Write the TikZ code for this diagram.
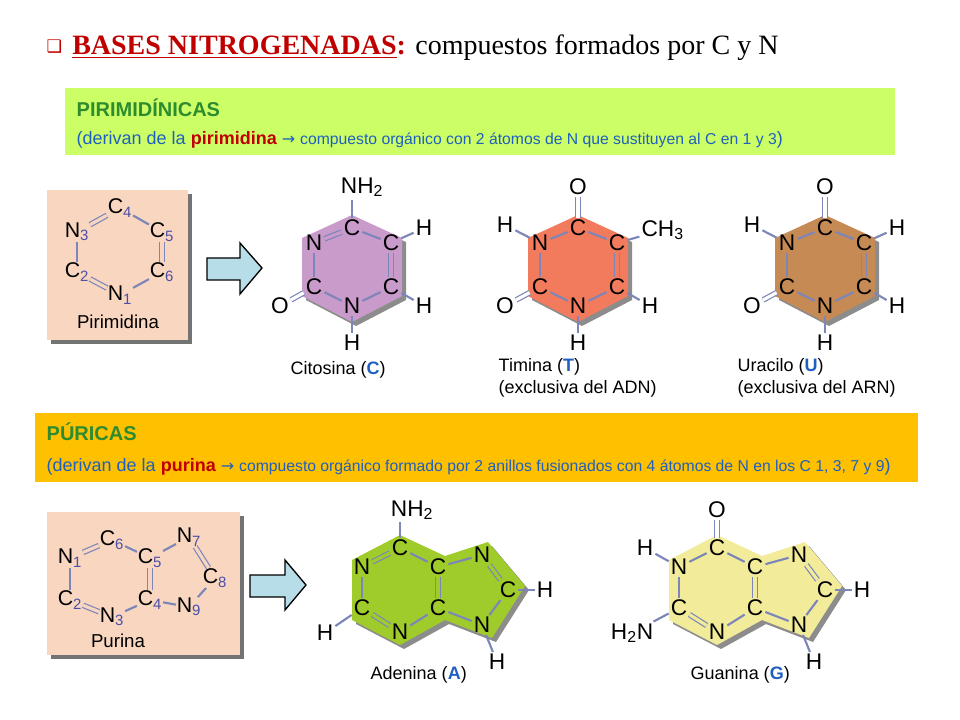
\documentclass[tikz,border=0pt]{standalone}
\usepackage{fontspec}
\setmainfont{Liberation Sans}
\newfontfamily\titlefont{Liberation Serif}
\newfontfamily\symfont{DejaVu Sans}
\definecolor{bondblue}{HTML}{7C86B8}
\definecolor{subblue}{HTML}{4A4FA8}
\definecolor{textblue}{HTML}{1F5FBF}
\definecolor{headgreen}{HTML}{2E8B2E}
\definecolor{titlered}{HTML}{C00000}
\definecolor{limebox}{HTML}{CCFF66}
\definecolor{orangebox}{HTML}{FFC000}
\definecolor{peach}{HTML}{F8D6C0}
\definecolor{arrowfill}{HTML}{B7DEE8}
\definecolor{cytofill}{HTML}{C99BCB}
\definecolor{thymfill}{HTML}{F27B5E}
\definecolor{uracfill}{HTML}{C68A55}
\definecolor{adenfill}{HTML}{9FCC2A}
\definecolor{guanfill}{HTML}{F2EC9A}
\tikzset{
  atom/.style={inner sep=1pt, font=\fontsize{17}{17}\selectfont},
  patom/.style={inner sep=0pt, font=\fontsize{16}{16}\selectfont},
  bond/.style={draw=bondblue, line width=1.6pt, shorten <=0.5pt, shorten >=0.5pt},
  dbond/.style={bond, line width=0.9pt, double distance=2.4pt},
  shade/.style={fill=black!45},
  caption/.style={font=\fontsize{13.5}{16}\selectfont, anchor=west, align=left},
  blockarrow/.style={draw=black, line width=1pt, fill=arrowfill}
}
\newcommand{\sub}[1]{\textsubscript{\color{subblue}#1}}
\begin{document}
\begin{tikzpicture}[x=0.75pt, y=-0.75pt]
	\useasboundingbox (0,0) rectangle (960,720);
	%title
		\node[anchor=west, text=titlered, font=\symfont\fontsize{13}{13}\selectfont] (chk) at (42,47) {❑};
		\node[anchor=base west, inner sep=0pt, font=\titlefont\fontsize{21}{24}\selectfont] (title) at (72,55)
			{\textcolor{titlered}{\bfseries\underline{BASES NITROGENADAS}}\textcolor{titlered}{\bfseries:} compuestos formados por C y N};
	%pirimidinicas band
		\fill[limebox] (65,88) rectangle (895,155);
		\node[anchor=west, text=headgreen, font=\bfseries\fontsize{15}{17}\selectfont] (pirhead) at (72,108) {PIRIMIDÍNICAS};
		\node[anchor=west, text=textblue, font=\fontsize{13.5}{15}\selectfont] (pirtext) at (72,140)
			{(derivan de la \textcolor{titlered}{\bfseries pirimidina} {\symfont\fontsize{12}{12}\selectfont →} {\fontsize{11.8}{13}\selectfont compuesto orgánico con 2 átomos de N que sustituyen al C en 1 y 3})};
	%puricas band
		\fill[orangebox] (35,413) rectangle (918,482);
		\node[anchor=west, text=headgreen, font=\bfseries\fontsize{15}{17}\selectfont] (purhead) at (42,432) {PÚRICAS};
		\node[anchor=west, text=textblue, font=\fontsize{13.5}{15}\selectfont] (purtext) at (42,467)
			{(derivan de la \textcolor{titlered}{\bfseries purina} {\symfont\fontsize{12}{12}\selectfont →} {\fontsize{11.8}{13}\selectfont compuesto orgánico formado por 2 anillos fusionados con 4 átomos de N en los C 1, 3, 7 y 9})};
	%pirimidina box
		\fill[black!55] (51,194) rectangle (192,344);
		\fill[peach] (47,190) rectangle (188,340);
		\node[patom] (pC4) at (120,208) {C\sub{4}};
		\node[patom] (pC5) at (162,232) {C\sub{5}};
		\node[patom] (pC6) at (162,272) {C\sub{6}};
		\node[patom] (pN1) at (120,295) {N\sub{1}};
		\node[patom] (pC2) at (77,272) {C\sub{2}};
		\node[patom] (pN3) at (77,232) {N\sub{3}};
		\draw[dbond, double=peach] (pN3) -- (pC4);
		\draw[bond] (pC4) -- (pC5);
		\draw[dbond, double=peach] (pC5) -- (pC6);
		\draw[bond] (pC6) -- (pN1);
		\draw[dbond, double=peach] (pN1) -- (pC2);
		\draw[bond] (pC2) -- (pN3);
		\node[font=\fontsize{14}{16}\selectfont] (pirname) at (118,322) {Pirimidina};
	%purina box
		\fill[black!55] (51,516) rectangle (244,659);
		\fill[peach] (47,512) rectangle (240,655);
		\node[patom] (uC6) at (112,540) {C\sub{6}};
		\node[patom] (uC5) at (150,558) {C\sub{5}};
		\node[patom] (uC4) at (150,600) {C\sub{4}};
		\node[patom] (uN3) at (112,617) {N\sub{3}};
		\node[patom] (uC2) at (70,600) {C\sub{2}};
		\node[patom] (uN1) at (70,558) {N\sub{1}};
		\node[patom] (uN7) at (189,537) {N\sub{7}};
		\node[patom] (uC8) at (215,578) {C\sub{8}};
		\node[patom] (uN9) at (189,607) {N\sub{9}};
		\draw[dbond, double=peach] (uN1) -- (uC6);
		\draw[bond] (uC6) -- (uC5);
		\draw[dbond, double=peach] (uC5) -- (uC4);
		\draw[bond] (uC4) -- (uN3);
		\draw[dbond, double=peach] (uN3) -- (uC2);
		\draw[bond] (uC2) -- (uN1);
		\draw[bond] (uC5) -- (uN7);
		\draw[dbond, double=peach] (uN7) -- (uC8);
		\draw[bond] (uC8) -- (uN9);
		\draw[bond] (uN9) -- (uC4);
		\node[font=\fontsize{14}{16}\selectfont] (purname) at (118,641) {Purina};
	%block arrows
		\draw[blockarrow] (207,258) -- (240,258) -- (240,243) -- (262,268) -- (240,294) -- (240,280) -- (207,280) -- cycle;
		\draw[blockarrow] (250,575) -- (285,575) -- (285,560) -- (306,585) -- (285,610) -- (285,597) -- (250,597) -- cycle;
	%citosina
		\fill[shade] (356,219) -- (406,242) -- (406,300) -- (356,326) -- (306,300) -- (306,242) -- cycle;
		\fill[cytofill] (352,215) -- (402,238) -- (402,296) -- (352,322) -- (302,296) -- (302,238) -- cycle;
		\node[atom] (cC4) at (352,228) {C};
		\node[atom] (cC5) at (391,243) {C};
		\node[atom] (cC6) at (391,287) {C};
		\node[atom] (cN1) at (352,306) {N};
		\node[atom] (cC2) at (314,287) {C};
		\node[atom] (cN3) at (314,243) {N};
		\node[atom] (cNH) at (362,187) {NH\textsubscript{2}};
		\node[atom] (cH5) at (424,228) {H};
		\node[atom] (cH6) at (424,306) {H};
		\node[atom] (cH1) at (352,343) {H};
		\node[atom] (cO) at (280,306) {O};
		\draw[dbond, double=cytofill] (cC4) -- (cN3);
		\draw[bond] (cC4) -- (cC5);
		\draw[dbond, double=cytofill] (cC5) -- (cC6);
		\draw[bond] (cC6) -- (cN1);
		\draw[bond] (cN1) -- (cC2);
		\draw[bond] (cC2) -- (cN3);
		\draw[dbond, double=white] (cC2) -- (cO);
		\draw[bond] (cC4) -- (352,199);
		\draw[bond] (cC5) -- (cH5);
		\draw[bond] (cC6) -- (cH6);
		\draw[bond] (cN1) -- (cH1);
		\node[caption] (cname) at (286,370) {Citosina (\textcolor{textblue}{\bfseries C})};
	%timina
		\fill[shade] (582,219) -- (632,242) -- (632,300) -- (582,326) -- (532,300) -- (532,242) -- cycle;
		\fill[thymfill] (578,215) -- (628,238) -- (628,296) -- (578,322) -- (528,296) -- (528,238) -- cycle;
		\node[atom] (tC4) at (578,228) {C};
		\node[atom] (tC5) at (617,243) {C};
		\node[atom] (tC6) at (617,287) {C};
		\node[atom] (tN1) at (578,306) {N};
		\node[atom] (tC2) at (540,287) {C};
		\node[atom] (tN3) at (540,243) {N};
		\node[atom] (tO4) at (578,187) {O};
		\node[atom, anchor=west] (tCH) at (640,230) {CH\textsubscript{3}};
		\node[atom] (tH6) at (650,306) {H};
		\node[atom] (tH1) at (578,343) {H};
		\node[atom] (tO2) at (505,306) {O};
		\node[atom] (tH3) at (505,225) {H};
		\draw[bond] (tC4) -- (tN3);
		\draw[bond] (tC4) -- (tC5);
		\draw[dbond, double=thymfill] (tC5) -- (tC6);
		\draw[bond] (tC6) -- (tN1);
		\draw[bond] (tN1) -- (tC2);
		\draw[bond] (tC2) -- (tN3);
		\draw[dbond, double=white] (tC4) -- (tO4);
		\draw[dbond, double=white] (tC2) -- (tO2);
		\draw[bond] (tN3) -- (tH3);
		\draw[bond] (tC5) -- (tCH);
		\draw[bond] (tC6) -- (tH6);
		\draw[bond] (tN1) -- (tH1);
		\node[caption] (tname) at (494,378) {Timina (\textcolor{textblue}{\bfseries T})\\(exclusiva del ADN)};
	%uracilo
		\fill[shade] (829,219) -- (879,242) -- (879,300) -- (829,326) -- (779,300) -- (779,242) -- cycle;
		\fill[uracfill] (825,215) -- (875,238) -- (875,296) -- (825,322) -- (775,296) -- (775,238) -- cycle;
		\node[atom] (rC4) at (825,228) {C};
		\node[atom] (rC5) at (864,243) {C};
		\node[atom] (rC6) at (864,287) {C};
		\node[atom] (rN1) at (825,306) {N};
		\node[atom] (rC2) at (787,287) {C};
		\node[atom] (rN3) at (787,243) {N};
		\node[atom] (rO4) at (825,187) {O};
		\node[atom] (rH5) at (897,228) {H};
		\node[atom] (rH6) at (897,306) {H};
		\node[atom] (rH1) at (825,343) {H};
		\node[atom] (rO2) at (752,306) {O};
		\node[atom] (rH3) at (752,225) {H};
		\draw[bond] (rC4) -- (rN3);
		\draw[bond] (rC4) -- (rC5);
		\draw[dbond, double=uracfill] (rC5) -- (rC6);
		\draw[bond] (rC6) -- (rN1);
		\draw[bond] (rN1) -- (rC2);
		\draw[bond] (rC2) -- (rN3);
		\draw[dbond, double=white] (rC4) -- (rO4);
		\draw[dbond, double=white] (rC2) -- (rO2);
		\draw[bond] (rN3) -- (rH3);
		\draw[bond] (rC5) -- (rH5);
		\draw[bond] (rC6) -- (rH6);
		\draw[bond] (rN1) -- (rH1);
		\node[caption] (rname) at (733,378) {Uracilo (\textcolor{textblue}{\bfseries U})\\(exclusiva del ARN)};
	%adenina
		\fill[shade] (356,564) -- (404,539) -- (449,560) -- (492,546) -- (529,590) -- (496,642) -- (449,624) -- (404,649) -- (356,624) -- cycle;
		\fill[adenfill] (352,560) -- (400,535) -- (445,556) -- (488,542) -- (525,586) -- (492,638) -- (445,620) -- (400,645) -- (352,620) -- cycle;
		\node[atom] (aC6) at (400,548) {C};
		\node[atom] (aC5) at (438,567) {C};
		\node[atom] (aC4) at (438,608) {C};
		\node[atom] (aN3) at (400,632) {N};
		\node[atom] (aC2) at (362,608) {C};
		\node[atom] (aN1) at (362,567) {N};
		\node[atom] (aN7) at (482,555) {N};
		\node[atom] (aC8) at (508,590) {C};
		\node[atom] (aN9) at (482,625) {N};
		\node[atom] (aNH) at (412,510) {NH\textsubscript{2}};
		\node[atom] (aH8) at (545,590) {H};
		\node[atom] (aH9) at (497,662) {H};
		\node[atom] (aH2) at (325,633) {H};
		\draw[dbond, double=adenfill] (aN1) -- (aC6);
		\draw[bond] (aC6) -- (aC5);
		\draw[dbond, double=adenfill] (aC5) -- (aC4);
		\draw[bond] (aC4) -- (aN3);
		\draw[dbond, double=adenfill] (aN3) -- (aC2);
		\draw[bond] (aC2) -- (aN1);
		\draw[bond] (aC5) -- (aN7);
		\draw[dbond, double=adenfill] (aN7) -- (aC8);
		\draw[bond] (aC8) -- (aN9);
		\draw[bond] (aN9) -- (aC4);
		\draw[bond] (aC6) -- (400,521);
		\draw[bond] (aC2) -- (aH2);
		\draw[bond] (aC8) -- (aH8);
		\draw[bond] (aN9) -- (aH9);
		\node[caption] (aname) at (366,675) {Adenina (\textcolor{textblue}{\bfseries A})};
	%guanina
		\fill[shade] (673,564) -- (721,539) -- (766,560) -- (809,546) -- (846,590) -- (813,642) -- (766,624) -- (721,649) -- (673,624) -- cycle;
		\fill[guanfill] (669,560) -- (717,535) -- (762,556) -- (805,542) -- (842,586) -- (809,638) -- (762,620) -- (717,645) -- (669,620) -- cycle;
		\node[atom] (gC6) at (717,548) {C};
		\node[atom] (gC5) at (755,567) {C};
		\node[atom] (gC4) at (755,608) {C};
		\node[atom] (gN3) at (717,632) {N};
		\node[atom] (gC2) at (679,608) {C};
		\node[atom] (gN1) at (679,567) {N};
		\node[atom] (gN7) at (799,555) {N};
		\node[atom] (gC8) at (825,590) {C};
		\node[atom] (gN9) at (799,625) {N};
		\node[atom] (gO6) at (717,510) {O};
		\node[atom] (gH1) at (645,548) {H};
		\node[atom] (gNH) at (632,633) {H\textsubscript{2}N};
		\node[atom] (gH8) at (862,590) {H};
		\node[atom] (gH9) at (814,662) {H};
		\draw[bond] (gN1) -- (gC6);
		\draw[bond] (gC6) -- (gC5);
		\draw[dbond, double=guanfill] (gC5) -- (gC4);
		\draw[bond] (gC4) -- (gN3);
		\draw[dbond, double=guanfill] (gN3) -- (gC2);
		\draw[bond] (gC2) -- (gN1);
		\draw[bond] (gC5) -- (gN7);
		\draw[dbond, double=guanfill] (gN7) -- (gC8);
		\draw[bond] (gC8) -- (gN9);
		\draw[bond] (gN9) -- (gC4);
		\draw[dbond, double=white] (gC6) -- (gO6);
		\draw[bond] (gN1) -- (gH1);
		\draw[bond] (gC2) -- (gNH);
		\draw[bond] (gC8) -- (gH8);
		\draw[bond] (gN9) -- (gH9);
		\node[caption] (gname) at (686,675) {Guanina (\textcolor{textblue}{\bfseries G})};
\end{tikzpicture}
\end{document}
